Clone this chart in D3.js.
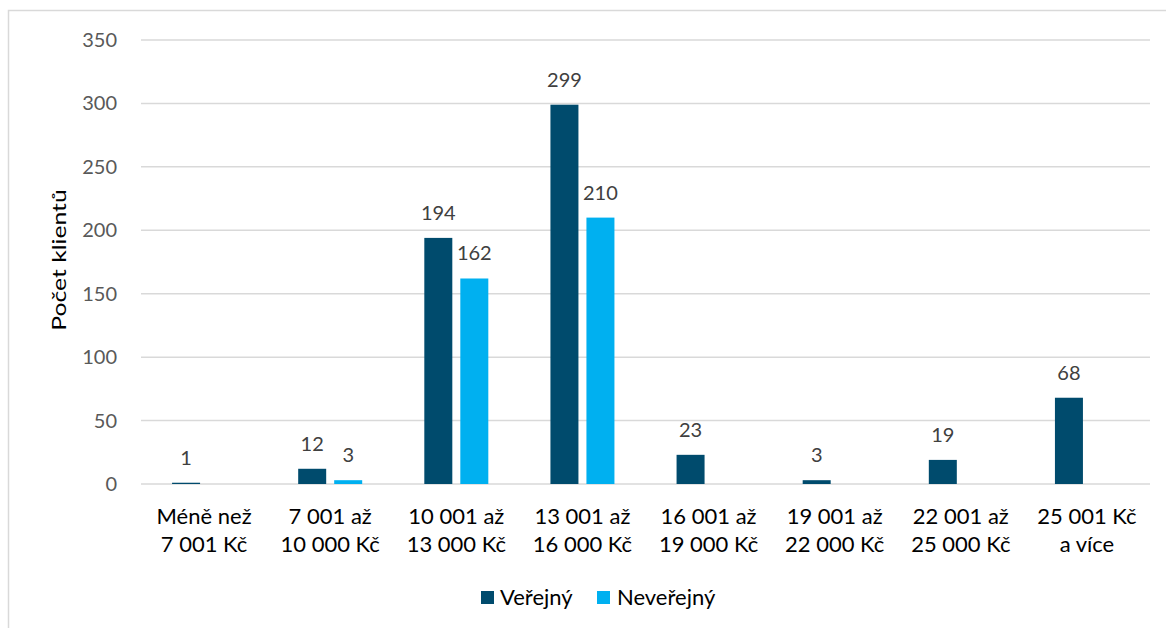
<!DOCTYPE html>
<html><head><meta charset="utf-8">
<script src="https://cdn.jsdelivr.net/npm/d3@7"></script>
<style>body{margin:0;background:#fff}svg{display:block;font-family:Lato,"Open Sans",sans-serif}</style>
</head><body><svg id="c" width="1166" height="628"></svg>
<script>
const categories = [["Méně než","7 001 Kč"],["7 001 až","10 000 Kč"],["10 001 až","13 000 Kč"],["13 001 až","16 000 Kč"],["16 001 až","19 000 Kč"],["19 001 až","22 000 Kč"],["22 001 až","25 000 Kč"],["25 001 Kč","a více"]];
const seriesNames = ["Veřejný","Neveřejný"];
const verejny = [1,12,194,299,23,3,19,68];
const neverejny = [null,3,162,210,null,null,null,null];
const yTicks = [0,50,100,150,200,250,300,350];
const colors = ["#004B6D","#00B0F0"];

const svg = d3.select("#c");
svg.append("rect").attr("x",8.5).attr("y",10.5).attr("width",1200).attr("height",700).attr("fill","none").attr("stroke","#d9d9d9").attr("stroke-width",1.5);

const L=141,R=1150,T=40,B=484;
const x = d3.scaleBand().domain(d3.range(categories.length)).range([L,R]);
const y = d3.scaleLinear().domain([0,350]).range([B,T]);
const xs = d3.scaleBand().domain([0,1]).range([0,64]).paddingInner(0.2222);

const g = svg.append("g");
g.selectAll("line.grid").data(yTicks).join("line").attr("x1",L).attr("x2",R)
  .attr("y1",d=>y(d)).attr("y2",d=>y(d)).attr("stroke","#d9d9d9").attr("stroke-width",1.5);
g.selectAll("text.yt").data(yTicks).join("text").attr("x",117).attr("y",d=>y(d)+7)
  .attr("text-anchor","end").attr("fill","#595959").attr("font-size",20).text(d=>d);

const series=[verejny,neverejny];
series.forEach((vals,si)=>{
  const data = vals.map((v,i)=>({v,i})).filter(d=>d.v!==null);
  g.selectAll("rect.s"+si).data(data).join("rect")
   .attr("x",d=>x(d.i)+x.bandwidth()/2-32+xs(si)).attr("width",xs.bandwidth())
   .attr("y",d=>y(d.v)).attr("height",d=>B-y(d.v)).attr("fill",colors[si]);
  g.selectAll("text.l"+si).data(data).join("text")
   .attr("x",d=>x(d.i)+x.bandwidth()/2-32+xs(si)+xs.bandwidth()/2).attr("y",d=>y(d.v)-18)
   .attr("text-anchor","middle").attr("fill","#404040").attr("font-size",20).text(d=>d.v);
});

categories.forEach((c,i)=>{
  const t=g.append("text").attr("text-anchor","middle").attr("font-size",22).attr("fill","#000");
  c.forEach((ln,k)=>t.append("tspan").attr("x",x(i)+x.bandwidth()/2).attr("y",524+k*28).text(ln));
});

svg.append("text").attr("transform","translate(66,260) rotate(-90) scale(1.3,1)").attr("text-anchor","middle")
  .attr("font-size",19).attr("fill","#000").text("Počet klientů");

const leg=[{x:481,tx:500},{x:597,tx:617}];
seriesNames.forEach((n,i)=>{
  svg.append("rect").attr("x",leg[i].x).attr("y",591).attr("width",13).attr("height",13).attr("fill",colors[i]);
  svg.append("text").attr("x",leg[i].tx).attr("y",605).attr("font-size",22).attr("fill","#000").text(n);
});
</script></body></html>
